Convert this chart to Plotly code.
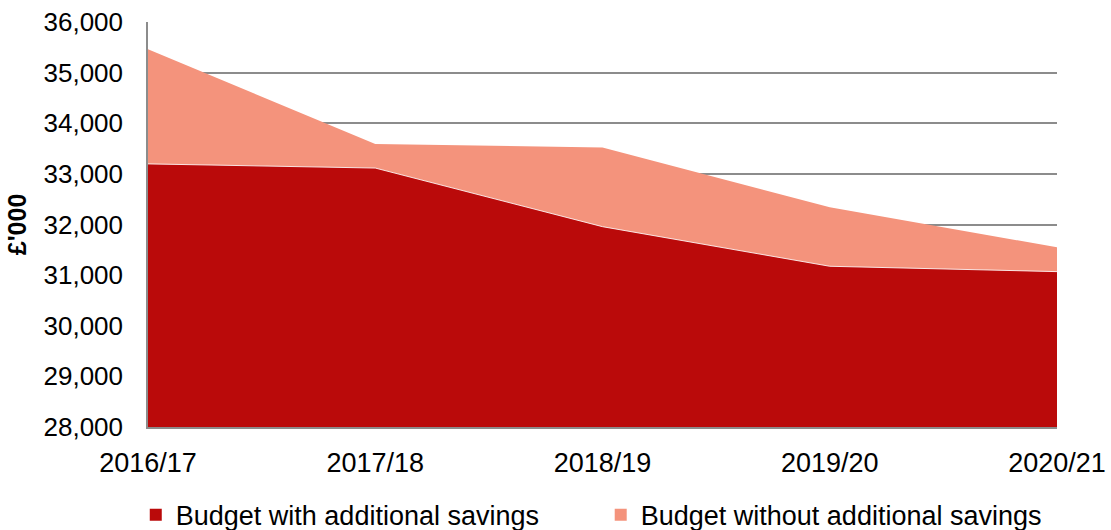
import plotly.graph_objects as go

# Budget projections (£'000)
years = ["2016/17", "2017/18", "2018/19", "2019/20", "2020/21"]
with_savings = [33197, 33115, 31957, 31175, 31069]
without_savings = [35462, 33588, 33523, 32339, 31550]
y_ticks = [28000, 29000, 30000, 31000, 32000, 33000, 34000, 35000, 36000]

dark_red = "#BA0A0A"
salmon = "#F4937C"
grid = "#8C8C8C"
font = "Liberation Sans, Arial, sans-serif"

fig = go.Figure()

# upper band first, filled to the floor; lower band drawn over it
fig.add_trace(go.Scatter(
    x=years, y=without_savings, mode="lines",
    line=dict(color=salmon, width=0), fill="tozeroy", fillcolor=salmon,
    showlegend=False, hoverinfo="skip"))
fig.add_trace(go.Scatter(
    x=years, y=with_savings, mode="lines",
    line=dict(color="rgba(255,255,255,0.85)", width=1), fill="tozeroy", fillcolor=dark_red,
    showlegend=False, hoverinfo="skip"))

# square legend keys, one legend box each so they sit side by side
fig.add_trace(go.Scatter(
    x=[None], y=[None], mode="markers", name="Budget with additional savings",
    marker=dict(symbol="square", size=11, color=dark_red), legend="legend"))
fig.add_trace(go.Scatter(
    x=[None], y=[None], mode="markers", name="Budget without additional savings",
    marker=dict(symbol="square", size=11, color=salmon), legend="legend2"))

legend_common = dict(orientation="h", xref="container", yref="container",
                     xanchor="left", y=0.028, yanchor="middle",
                     font=dict(size=27), itemsizing="constant",
                     bgcolor="rgba(0,0,0,0)")

fig.update_layout(
    width=1111, height=530,
    margin=dict(l=148, r=54, t=22, b=103, autoexpand=False),
    paper_bgcolor="white", plot_bgcolor="white",
    font=dict(family=font, size=27, color="#000000"),
    showlegend=True,
    legend=dict(x=0.1222, **legend_common),
    legend2=dict(x=0.5407, **legend_common),
    xaxis=dict(
        type="category", categoryorder="array", categoryarray=years,
        range=[0, 4], showgrid=False, zeroline=False,
        showline=True, linecolor=grid, linewidth=1.5,
        ticks="outside", ticklen=11, tickcolor="rgba(0,0,0,0)",
        tickfont=dict(size=27)),
    yaxis=dict(
        range=[28000, 36000], tickvals=y_ticks, tickformat=",d",
        showgrid=True, gridcolor=grid, gridwidth=1.5, zeroline=False,
        showline=True, linecolor=grid, linewidth=1.5,
        ticks="outside", ticklen=18, tickcolor="rgba(0,0,0,0)",
        tickfont=dict(size=26),
        title=dict(text="<b>£'000</b>", font=dict(size=25), standoff=10)),
)

fig.write_html("out.html")
